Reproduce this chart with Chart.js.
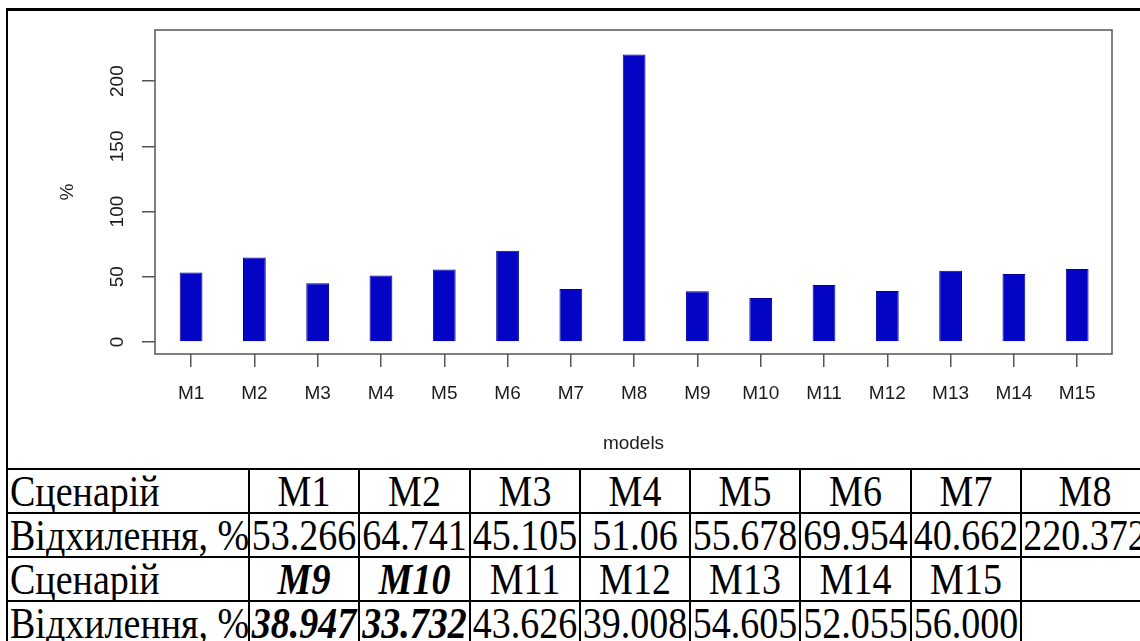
<!DOCTYPE html>
<html>
<head>
<meta charset="utf-8">
<title>Відхилення сценаріїв</title>
<script src="https://cdn.jsdelivr.net/npm/chart.js@4.4.1/dist/chart.umd.min.js"></script>
<style>
  html, body { margin: 0; padding: 0; background: #fff; width: 1140px; height: 641px; overflow: hidden; }
  #frame {
    position: absolute; left: 6px; top: 8px; width: 1142px;
    border-collapse: collapse; table-layout: fixed;
    font-family: 'Liberation Serif', 'Times New Roman', serif; font-size: 38px; color: #000;
  }
  #frame td {
    border: 2px solid #000; padding: 0; height: 42px; line-height: 42px;
    text-align: center; white-space: nowrap; overflow: hidden;
  }
  #frame td.head { text-align: left; padding-left: 2px; }
  #frame td.plot { height: 457px; border-width: 3px 2px 2px 2px; }
  #frame td span { display: inline-block; transform: scaleY(1.15); transform-origin: 50% 50%; }
  #frame .hl { font-weight: bold; font-style: italic; }
  #chart { position: absolute; left: 0; top: 0; }
</style>
</head>
<body>
<table id="frame">
  <colgroup>
    <col style="width:242px"><col style="width:110px"><col style="width:111px">
    <col style="width:110px"><col style="width:110px"><col style="width:110px">
    <col style="width:111px"><col style="width:110px"><col style="width:128px">
  </colgroup>
  <tbody id="rows">
    <tr><td class="plot" colspan="9"></td></tr>
  </tbody>
</table>
<canvas id="chart" width="1140" height="466"></canvas>

<script>
const models = ['M1', 'M2', 'M3', 'M4', 'M5', 'M6', 'M7', 'M8',
                'M9', 'M10', 'M11', 'M12', 'M13', 'M14', 'M15'];
const deviationText = ['53.266', '64.741', '45.105', '51.06', '55.678', '69.954', '40.662', '220.372',
                       '38.947', '33.732', '43.626', '39.008', '54.605', '52.055', '56.000'];
const deviation = deviationText.map(Number);
const bestModels = ['M9', 'M10'];
const yTicks = [0, 50, 100, 150, 200];
const rowTitles = ['Сценарій', 'Відхилення, %'];

// table under the plot: two blocks of 8 columns
const tbody = document.getElementById('rows');
function addRow(title, cells) {
  const tr = document.createElement('tr');
  const th = document.createElement('td');
  th.className = 'head';
  th.innerHTML = '<span></span>';
  th.firstChild.textContent = title;
  tr.appendChild(th);
  cells.forEach(c => {
    const td = document.createElement('td');
    if (c) {
      const sp = document.createElement('span');
      sp.textContent = c.text;
      if (c.bold) sp.className = 'hl';
      td.appendChild(sp);
    }
    tr.appendChild(td);
  });
  tbody.appendChild(tr);
}
for (let start = 0; start < models.length; start += 8) {
  const names = [], vals = [];
  for (let i = start; i < start + 8; i++) {
    if (i < models.length) {
      const bold = bestModels.includes(models[i]);
      names.push({ text: models[i], bold });
      vals.push({ text: deviationText[i], bold });
    } else {
      names.push(null);
      vals.push(null);
    }
  }
  addRow(rowTitles[0], names);
  addRow(rowTitles[1], vals);
}

const axisFont = { family: "'Liberation Sans', Arial, sans-serif", size: 19 };
const axisColor = '#1c1c1c';
const lineColor = '#555';

const plotBox = {
  id: 'plotBox',
  afterDraw(chart) {
    const { ctx, chartArea: a } = chart;
    ctx.save();
    ctx.strokeStyle = lineColor;
    ctx.lineWidth = 1.5;
    ctx.strokeRect(a.left, a.top, a.right - a.left, a.bottom - a.top);
    ctx.restore();
  }
};

new Chart(document.getElementById('chart'), {
  type: 'bar',
  data: {
    datasets: [{
      data: models.map((m, i) => ({ x: i, y: deviation[i] })),
      backgroundColor: '#0404c4',
      borderColor: '#00009a',
      borderWidth: 1,
      categoryPercentage: 1,
      barPercentage: 0.36
    }]
  },
  options: {
    responsive: false,
    animation: false,
    layout: { padding: { top: 30, right: 28, left: 0, bottom: 0 } },
    plugins: { legend: { display: false }, tooltip: { enabled: false } },
    scales: {
      x: {
        type: 'linear',
        min: -0.57,
        max: 14.55,
        offset: false,
        afterBuildTicks: s => { s.ticks = models.map((m, i) => ({ value: i })); },
        afterFit: s => { s.height = 112; },
        border: { display: false },
        grid: { offset: false, drawOnChartArea: false, tickLength: 13, color: lineColor, lineWidth: 1.5 },
        ticks: {
          autoSkip: false, maxRotation: 0, padding: 15,
          color: axisColor, font: axisFont,
          callback: v => models[v]
        },
        title: { display: true, text: 'models', color: axisColor, font: axisFont, padding: { top: 0, bottom: 11 } }
      },
      y: {
        min: -9.2,
        max: 239.2,
        afterBuildTicks: s => { s.ticks = yTicks.map(v => ({ value: v })); },
        afterFit: s => { s.width = 155; },
        border: { display: false },
        grid: { drawOnChartArea: false, tickLength: 13, color: lineColor, lineWidth: 1.5 },
        ticks: {
          minRotation: 90, maxRotation: 90, crossAlign: 'center', padding: 8,
          color: axisColor, font: axisFont
        },
        title: { display: true, text: '%', color: axisColor, font: axisFont, padding: { top: 56 } }
      }
    }
  },
  plugins: [plotBox]
});
</script>
</body>
</html>
